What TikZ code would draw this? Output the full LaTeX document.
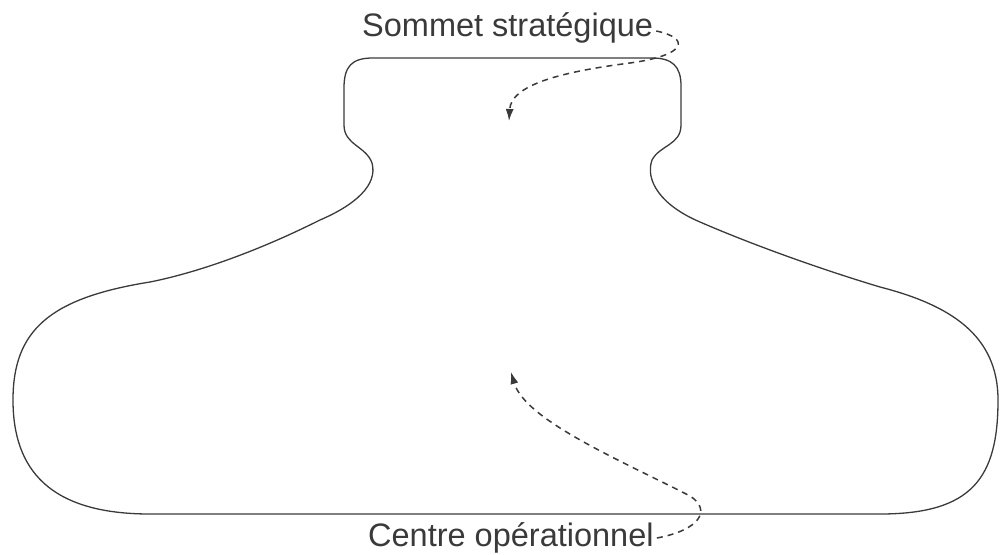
\documentclass[tikz,border=0pt]{standalone}
\usepackage{fontspec}
\setmainfont{Liberation Sans}
\usetikzlibrary{arrows.meta}
\definecolor{ink}{HTML}{3A3A3A}
\tikzset{
  outline/.style={draw=ink, line width=1.3pt, line join=round},
  flow/.style={draw=ink, line width=1.5pt, dash pattern=on 6pt off 5pt,
    -{Latex[length=12pt,width=8pt]}},
  lbl/.style={text=ink, inner sep=0pt, font=\fontsize{32.5}{38}\selectfont}
}
\begin{document}
\begin{tikzpicture}[x=1pt, y=-1pt]
  \useasboundingbox (0,0) rectangle (1000,554);

  % organisation silhouette: narrow head on top of a wide base
  \draw[outline] (150,514) -- (880,514)
    .. controls (972,514) and (998,478) .. (998,400)
    .. controls (998,335) and (950,305) .. (880,287)
    .. controls (830,272) and (760,248) .. (700,222)
    .. controls (660,205) and (645,180) .. (652,160)
    .. controls (660,145) and (681,145) .. (681,125)
    -- (681,86)
    .. controls (681,66) and (672,58) .. (652,58)
    -- (373,58)
    .. controls (352,58) and (344,66) .. (344,88)
    -- (344,125)
    .. controls (344,145) and (366,146) .. (372,163)
    .. controls (378,185) and (355,205) .. (320,220)
    .. controls (260,250) and (200,272) .. (150,282)
    .. controls (50,298) and (13,330) .. (13,400)
    .. controls (13,470) and (50,514) .. (150,514) -- cycle;

  % labels
  \node[lbl, anchor=base west] (sommet) at (362,36) {Sommet stratégique};
  \node[lbl, anchor=base west] (centre) at (368,546) {Centre opérationnel};

  % pointers into the shape
  \coordinate (sommetTip) at (509,121);
  \coordinate (centreTip) at (511,372);

  \draw[flow] ([xshift=3pt,yshift=5pt]sommet.base east)
    .. controls (690,38) and (688,55) .. (630,63)
    .. controls (560,72) and (511,85) .. (sommetTip);
  \draw[flow] ([xshift=3pt,yshift=8pt]centre.base east)
    .. controls (700,530) and (712,510) .. (690,496)
    .. controls (620,460) and (525,420) .. (centreTip);
\end{tikzpicture}
\end{document}
